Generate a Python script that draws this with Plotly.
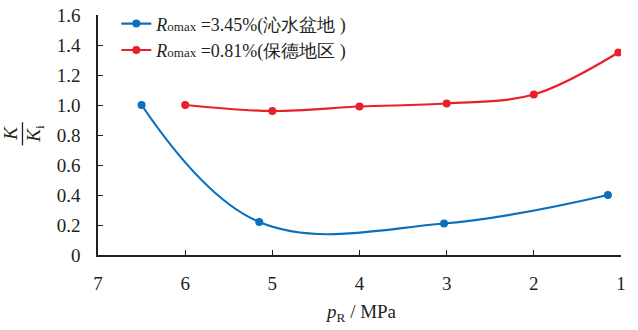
import plotly.graph_objects as go

# Reservoir pressure (MPa) and normalised permeability K/Ki
p_qinshui = [6.5, 5.15, 3.03, 1.15]
k_qinshui = [1.00, 0.22, 0.21, 0.40]

p_baode = [6.0, 5.0, 4.0, 3.0, 2.0, 1.03]
k_baode = [1.00, 0.96, 0.99, 1.01, 1.07, 1.35]

x_ticks = [7, 6, 5, 4, 3, 2, 1]
y_ticks = [0, 0.2, 0.4, 0.6, 0.8, 1.0, 1.2, 1.4, 1.6]
y_ticktext = ["0", "0.2", "0.4", "0.6", "0.8", "1.0", "1.2", "1.4", "1.6"]

name_qinshui = "<i>R</i><span style='font-size:13px'>omax</span> =3.45%(沁水盆地 )"
name_baode = "<i>R</i><span style='font-size:13px'>omax</span> =0.81%(保德地区 )"

BLUE = "#0a6fbd"
RED = "#e8202a"
AXIS = "#231f20"
FONT = "Times New Roman, Liberation Serif, Tinos, DejaVu Serif, serif"

fig = go.Figure()
fig.add_trace(go.Scatter(
    x=p_qinshui, y=k_qinshui, name=name_qinshui, mode="lines+markers",
    line=dict(color=BLUE, width=2.2, shape="spline", smoothing=1.1),
    marker=dict(color=BLUE, size=8),
))
fig.add_trace(go.Scatter(
    x=p_baode, y=k_baode, name=name_baode, mode="lines+markers",
    line=dict(color=RED, width=2.2, shape="spline", smoothing=1.0),
    marker=dict(color=RED, size=8),
))

fig.update_layout(
    width=638, height=330,
    margin=dict(l=98, r=17, t=15, b=75, autoexpand=False),
    paper_bgcolor="white", plot_bgcolor="white",
    font=dict(family=FONT, size=18, color=AXIS),
    showlegend=True,
    legend=dict(
        x=0.035, y=1.04, xanchor="left", yanchor="top",
        bgcolor="rgba(0,0,0,0)", font=dict(size=18, family=FONT, color=AXIS),
        itemwidth=30, tracegroupgap=0,
    ),
    xaxis=dict(
        range=[7, 1], tickvals=x_ticks, ticktext=[str(v) for v in x_ticks],
        showgrid=False, zeroline=False, showline=True, linecolor=AXIS, linewidth=1.5,
        ticks="inside", ticklen=5, tickcolor=AXIS, tickwidth=1.2, automargin=False,
        ticklabelstandoff=10, tickfont=dict(size=19, family=FONT),
    ),
    yaxis=dict(
        range=[0, 1.6], tickvals=y_ticks, ticktext=y_ticktext,
        showgrid=False, zeroline=False, showline=True, linecolor=AXIS, linewidth=1.5,
        ticks="inside", ticklen=5, tickcolor=AXIS, tickwidth=1.2, automargin=False,
        ticklabelstandoff=12, tickfont=dict(size=19, family=FONT),
    ),
)

# x-axis title
fig.add_annotation(
    text="<i>p</i><sub>R</sub> / MPa",
    xref="paper", yref="paper", x=0.503, y=0, yshift=-58,
    xanchor="center", yanchor="middle", showarrow=False,
    font=dict(size=19, family=FONT, color=AXIS),
)

# y-axis title as a rotated fraction K / Ki
frac_y = 0.505
fig.add_annotation(
    text="<i>K</i>", xref="paper", yref="paper", x=0, xshift=-87, y=frac_y,
    textangle=-90, showarrow=False, xanchor="center", yanchor="middle",
    font=dict(size=19, family=FONT, color=AXIS),
)
fig.add_annotation(
    text="<i>K</i><sub>i</sub>", xref="paper", yref="paper",
    x=0, xshift=-63, y=frac_y,
    textangle=-90, showarrow=False, xanchor="center", yanchor="middle",
    font=dict(size=19, family=FONT, color=AXIS),
)
fig.add_shape(
    type="line", xref="paper", yref="paper",
    x0=-0.1444, x1=-0.1444, y0=frac_y - 0.048, y1=frac_y + 0.048,
    line=dict(color=AXIS, width=1.3),
)

fig.write_html("out.html")
